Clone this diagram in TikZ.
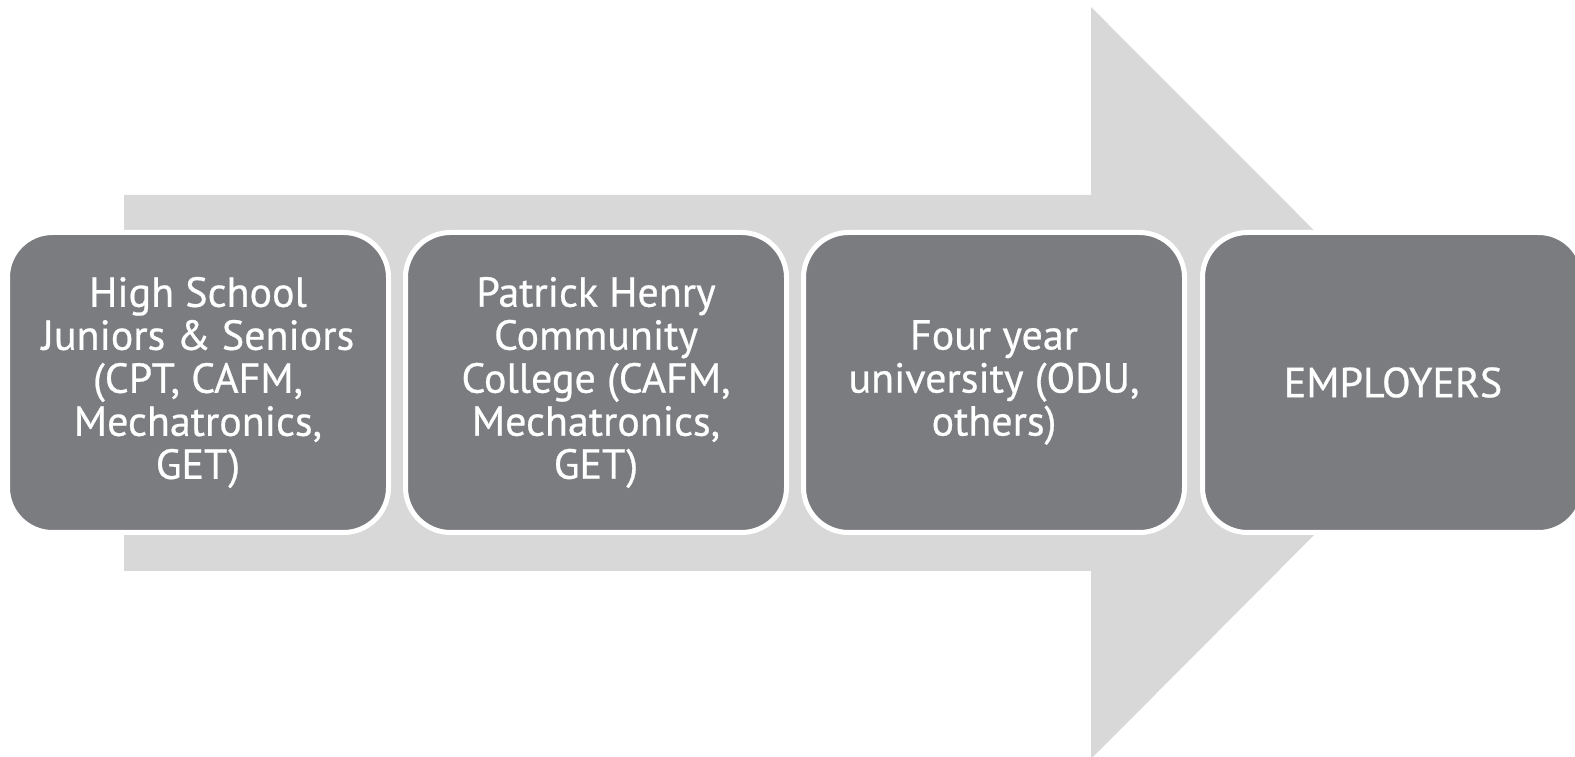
\documentclass[tikz,border=0pt]{standalone}
\usepackage{fontspec}
\setmainfont{PT Sans}
\newfontfamily\boxfont{PT Sans}[FakeBold=0.6]
\definecolor{boxgray}{HTML}{7B7C80}
\definecolor{arrowgray}{HTML}{D8D8D8}
\begin{document}
\begin{tikzpicture}[x=1pt,y=1pt,
  stage/.style={rounded corners=45pt, fill=boxgray, draw=white, line width=5pt,
    minimum width=381pt, minimum height=300pt, inner sep=0pt,
    text=white, align=center, font=\boxfont\fontsize{42}{43}\selectfont}]
\useasboundingbox (0,0) rectangle (1575,757);
\begin{scope}
\clip (0,0) rectangle (1575,757);
\fill[arrowgray] (124,562) -- (1091,562) -- (1091,750) -- (1466,374.5)
  -- (1091,-2) -- (1091,186) -- (124,186) -- cycle;
\node[stage] (hs) at (198,374.5) {High School\\Juniors \& Seniors\\(CPT, CAFM,\\Mechatronics,\\GET)};
\node[stage] (phcc) at (596,374.5) {Patrick Henry\\Community\\College (CAFM,\\Mechatronics,\\GET)};
\node[stage] (univ) at (994,374.5) {Four year\\university (ODU,\\others)};
\node[stage] (emp) at (1393,374.5) {EMPLOYERS};
\end{scope}
\end{tikzpicture}
\end{document}
